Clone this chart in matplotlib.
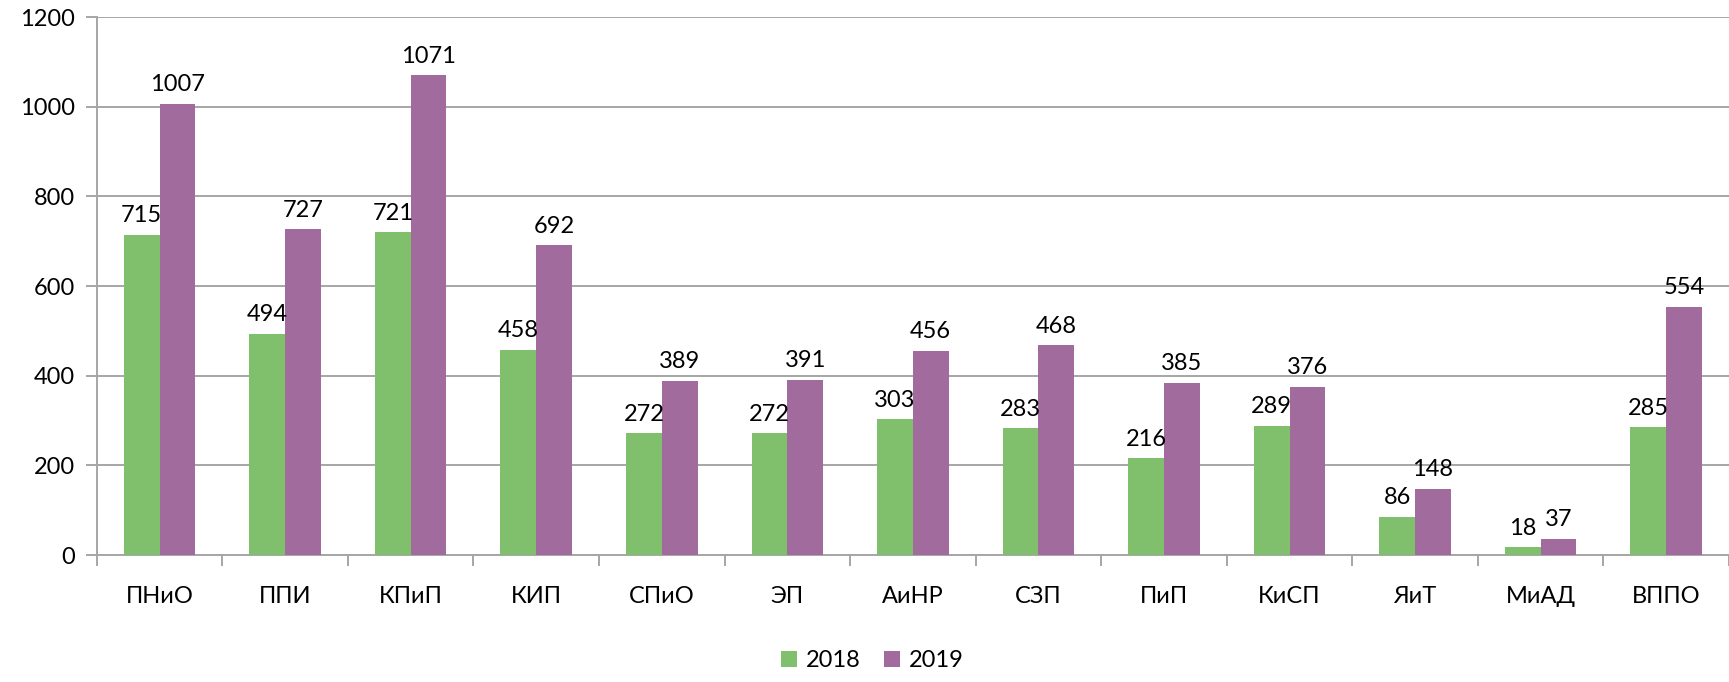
import numpy as np
import matplotlib
matplotlib.use("Agg")
import matplotlib.pyplot as plt

plt.rcParams['font.family'] = ['Lato', 'DejaVu Sans']

categories = ['ПНиО', 'ППИ', 'КПиП', 'КИП', 'СПиО', 'ЭП', 'АиНР',
              'СЗП', 'ПиП', 'КиСП', 'ЯиТ', 'МиАД', 'ВППО']
vals_2018 = [715, 494, 721, 458, 272, 272, 303, 283, 216, 289, 86, 18, 285]
vals_2019 = [1007, 727, 1071, 692, 389, 391, 456, 468, 385, 376, 148, 37, 554]

green = '#80C06C'
purple = '#A26B9D'
grid_col = '#A6A6A6'
fs = 17

fig = plt.figure(figsize=(17.29, 6.82), dpi=100)
ax = fig.add_axes([0.056, 0.186, 0.944, 0.789])

x = np.arange(len(categories))
w = 0.285
b1 = ax.bar(x - w / 2, vals_2018, w, color=green, label='2018', zorder=3)
b2 = ax.bar(x + w / 2, vals_2019, w, color=purple, label='2019', zorder=3)

for bars in (b1, b2):
    for rect in bars:
        h = rect.get_height()
        ax.annotate(str(int(h)), (rect.get_x() + rect.get_width() / 2, h),
                    xytext=(0, 6), textcoords='offset points',
                    ha='center', va='bottom', fontsize=fs, zorder=4)

ax.set_ylim(0, 1200)
ax.set_xlim(-0.5, len(categories) - 0.5)
ax.set_yticks(range(0, 1201, 200))
ax.yaxis.grid(True, color=grid_col, linewidth=1.4, zorder=0)
ax.set_axisbelow(True)

for s in ['top', 'right']:
    ax.spines[s].set_visible(False)
for s in ['left', 'bottom']:
    ax.spines[s].set_color(grid_col)
    ax.spines[s].set_linewidth(1.4)

# category ticks between groups, labels centered
ax.set_xticks(np.arange(-0.5, len(categories), 1.0))
ax.set_xticklabels([])
ax.set_xticks(x, minor=True)
ax.set_xticklabels(categories, minor=True, fontsize=fs)
ax.tick_params(axis='x', which='minor', length=0, pad=22)
ax.tick_params(axis='x', which='major', length=8, width=1.4, color=grid_col)
ax.tick_params(axis='y', length=8, width=1.4, color=grid_col, labelsize=fs, pad=8)

ax.legend(loc='upper center', bbox_to_anchor=(0.475, -0.15), ncol=2, frameon=False,
          fontsize=fs, handlelength=0.7, handleheight=0.7, handletextpad=0.35,
          columnspacing=1.0, borderaxespad=0.2)

fig.savefig('out.png', dpi=100)
